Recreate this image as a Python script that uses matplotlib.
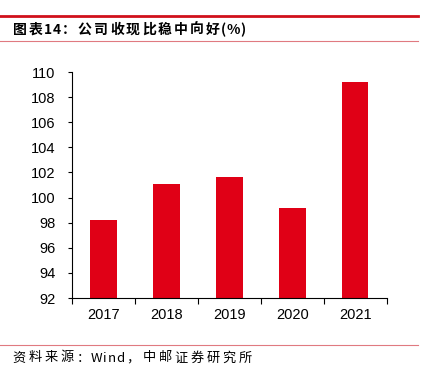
import matplotlib
matplotlib.use('Agg')
import matplotlib.pyplot as plt
from matplotlib.lines import Line2D
import numpy as np

years = ['2017', '2018', '2019', '2020', '2021']
ratio = [98.2, 101.1, 101.6, 99.2, 109.2]
yticks = [92, 94, 96, 98, 100, 102, 104, 106, 108, 110]

title = '图表14：公司收现比稳中向好(%)'
source = '资料来源：Wind，中邮证券研究所'

W, H = 433, 371
plt.rcParams['font.family'] = ['Liberation Sans', 'Noto Sans CJK SC', 'DejaVu Sans']

fig = plt.figure(figsize=(W / 100, H / 100), dpi=100)
ax = fig.add_axes([72 / W, 1 - 298 / H, (386.7 - 72) / W, (298 - 72) / H])

x = np.arange(len(years))
ax.bar(x, [v - 92 for v in ratio], bottom=92, width=0.42, color='#e00016')

ax.set_xlim(-0.5, len(years) - 0.5)
ax.set_ylim(92, 110)
ax.set_yticks(yticks)
ax.set_yticklabels([str(t) for t in yticks], fontsize=10.5)
ax.set_xticks(x)
ax.set_xticklabels(years, fontsize=10.5)
ax.set_xticks(np.arange(len(years) + 1) - 0.5, minor=True)
ax.tick_params(axis='x', which='major', length=0, pad=7)
ax.tick_params(axis='x', which='minor', length=4, direction='out', width=0.8)
ax.tick_params(axis='y', length=3, direction='out', width=0.8, pad=9)
for s in ['top', 'right']:
    ax.spines[s].set_visible(False)
for s in ['left', 'bottom']:
    ax.spines[s].set_linewidth(0.8)

# header / footer rules
fig.add_artist(Line2D([0, 418 / W], [1 - 16 / H, 1 - 16 / H], color='#d0101b', lw=2))
fig.add_artist(Line2D([0, 418 / W], [1 - 41 / H, 1 - 41 / H], color='#e07a80', lw=0.8))
fig.add_artist(Line2D([0, 418 / W], [1 - 345 / H, 1 - 345 / H], color='#e07a80', lw=0.8))

renderer = fig.canvas.get_renderer()


def spaced_text(s, x_px, y_px, size, weight, pitch, ascii_track):
    # full-width chars on a fixed pitch, latin chars at natural width
    for ch in s:
        wide = ord(ch) > 255
        t = fig.text((x_px + (pitch / 2 if wide else 0)) / W, 1 - y_px / H, ch,
                     fontsize=size, fontweight=weight,
                     family=['Noto Sans CJK SC', 'DejaVu Sans'], va='center',
                     ha='center' if wide else 'left')
        if wide:
            x_px += pitch
        else:
            x_px += t.get_window_extent(renderer).width + ascii_track


spaced_text(title, 12, 30, 10, 'bold', 16.0, 0.3)
spaced_text(source, 11, 358, 9.5, 'normal', 16.0, 0.6)

fig.savefig('out.png', dpi=100)
